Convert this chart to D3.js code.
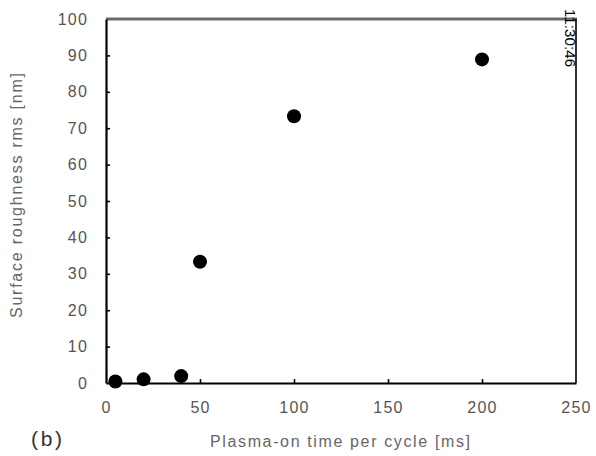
<!DOCTYPE html>
<html>
<head>
<meta charset="utf-8">
<script src="https://cdn.jsdelivr.net/npm/d3@7"></script>
<style>
  body { margin: 0; background: #fff; }
  svg { display: block; }
</style>
</head>
<body>
<svg id="chart" width="596" height="456"></svg>
<script>
// data
var plasmaTime = [5, 20, 40, 50, 100, 200];      // ms
var roughness  = [0.4, 1.0, 1.9, 33.3, 73.3, 88.9]; // nm
var xTicks = [0, 50, 100, 150, 200, 250];
var yTicks = [0, 10, 20, 30, 40, 50, 60, 70, 80, 90, 100];

var svg = d3.select('#chart');
var margin = { left: 106, top: 19, right: 20, bottom: 73 };
var W = 596, H = 456;

var x = d3.scaleLinear().domain([0, 250]).range([margin.left, W - margin.right]);
var y = d3.scaleLinear().domain([0, 100]).range([H - margin.bottom, margin.top]);

var font = '"Liberation Sans", Arial, sans-serif';

// top frame line (grey, heavy) and right frame line
svg.append('line')
    .attr('x1', x(0)).attr('x2', x(250) + 1)
    .attr('y1', y(100)).attr('y2', y(100))
    .attr('stroke', '#6b6b6b').attr('stroke-width', 3);
svg.append('line')
    .attr('x1', x(250)).attr('x2', x(250))
    .attr('y1', y(100)).attr('y2', y(0))
    .attr('stroke', '#000').attr('stroke-width', 1.6);

// axes, ticks pointing inward
var xAxis = d3.axisBottom(x).tickValues(xTicks).tickSizeInner(-4).tickSizeOuter(0).tickPadding(19);
var yAxis = d3.axisLeft(y).tickValues(yTicks).tickSizeInner(-4).tickSizeOuter(0).tickPadding(18);

var gx = svg.append('g').attr('transform', 'translate(0,' + y(0) + ')').call(xAxis);
var gy = svg.append('g').attr('transform', 'translate(' + x(0) + ',0)').call(yAxis);

[gx, gy].forEach(function(g){
    g.select('.domain').attr('stroke', '#000').attr('stroke-width', 2.2);
    g.selectAll('.tick line').attr('stroke', '#000').attr('stroke-width', 1.6);
    g.selectAll('.tick text')
        .attr('fill', '#555').style('font-family', font).style('font-size', '16px')
        .style('letter-spacing', '1.2px');
});
// hide ticks at the ends
gx.selectAll('.tick line').filter(function(d){ return d == 0 || d == 250; }).remove();
gy.selectAll('.tick line').filter(function(d){ return d == 0 || d == 100; }).remove();

// points
svg.append('g').selectAll('circle')
    .data(plasmaTime)
    .enter().append('circle')
    .attr('cx', function(d){ return x(d); })
    .attr('cy', function(d, i){ return y(roughness[i]); })
    .attr('r', 7)
    .attr('fill', '#000');

// axis titles
svg.append('text')
    .attr('x', 210).attr('y', 447)
    .attr('textLength', 260).attr('lengthAdjust', 'spacing')
    .attr('fill', '#666')
    .style('font-family', font).style('font-size', '16px')
    .text('Plasma-on time per cycle [ms]');

svg.append('text')
    .attr('transform', 'translate(22,318) rotate(-90)')
    .attr('textLength', 245).attr('lengthAdjust', 'spacing')
    .attr('fill', '#666')
    .style('font-family', font).style('font-size', '16px')
    .text('Surface roughness rms [nm]');

svg.append('text')
    .attr('x', 31).attr('y', 446)
    .attr('textLength', 31).attr('lengthAdjust', 'spacing')
    .attr('fill', '#333')
    .style('font-family', font).style('font-size', '21px')
    .text('(b)');

// timestamp stamp on the right edge
svg.append('text')
    .attr('transform', 'translate(565,9) rotate(90)')
    .attr('textLength', 58).attr('lengthAdjust', 'spacing')
    .attr('fill', '#000')
    .style('font-family', font).style('font-size', '15px')
    .text('11:30:46');
</script>
</body>
</html>
